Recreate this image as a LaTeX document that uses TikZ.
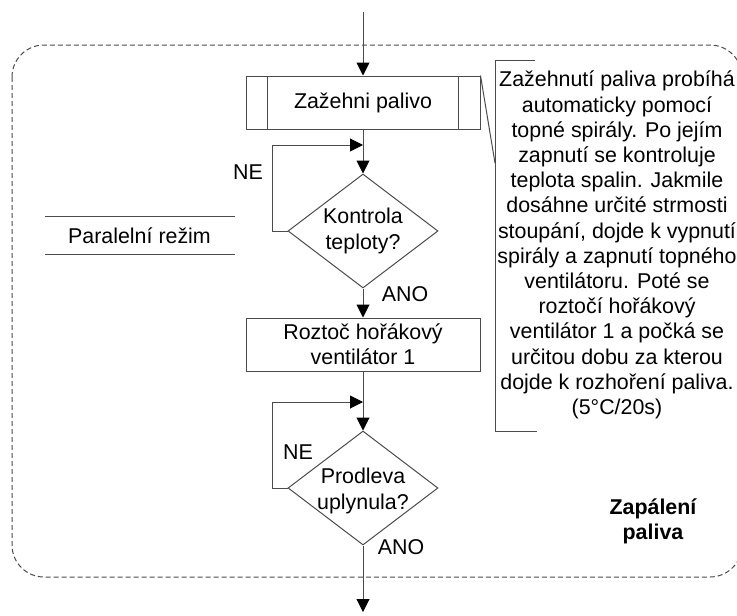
\documentclass[tikz,border=0pt]{standalone}
\usepackage{fontspec}
\setmainfont{Liberation Sans}
\usetikzlibrary{shapes.geometric,arrows.meta,calc}
\definecolor{lncol}{RGB}{75,75,75}
\begin{document}
\begin{tikzpicture}[x=1pt,y=-1pt,
  every node/.style={font=\fontsize{21.4}{25.2}\selectfont, inner sep=0pt},
  ln/.style={draw=lncol, line width=1pt},
  arr/.style={ln, -{Triangle[length=13pt,width=13pt,color=black]}},
  procbox/.style={draw=lncol, line width=1pt, minimum width=234pt, minimum height=53pt, align=center},
  decis/.style={diamond, draw=lncol, line width=1pt, minimum width=150pt, minimum height=114pt},
  boldtxt/.style={font={\fontsize{21.4}{25.2}\selectfont\bfseries}, align=center}]
\useasboundingbox (0,0) rectangle (737,616);
% group frame
\draw[lncol, line width=1pt, dash pattern=on 5pt off 3pt, rounded corners=32pt] (12,45) rectangle (742,577);

% nodes
\node[procbox] (b1) at (363,102.5) {Zažehni palivo};
\draw[ln] ($(b1.north west)+(22,0)$) -- ($(b1.south west)+(22,0)$);
\draw[ln] ($(b1.north east)+(-22,0)$) -- ($(b1.south east)+(-22,0)$);

\node[decis] (d1) at (363,231) {};
\node[align=center] (t1) at (363,231) {Kontrola\\teploty?};

\node[procbox] (b2) at (363,344.5) {Roztoč hořákový\\ventilátor 1};

\node[decis] (d2) at (363,488) {};
\node[align=center] (t2) at (363,491) {Prodleva\\uplynula?};

\coordinate (top) at (363,12);
\coordinate (j1) at (363,145);
\coordinate (j2) at (363,402);
\coordinate (bot) at (363,612);

% connectors
\draw[arr] (top) -- (b1.north);
\draw[arr] (b1.south) -- (d1.north);
\draw[arr] (d1.west) -- ++(-15,0) |- (j1);
\draw[arr] (d1.south) -- (b2.north);
\draw[arr] (b2.south) -- (d2.north);
\draw[arr] (d2.west) -- ++(-15,0) |- (j2);
\draw[arr] (d2.south) -- (bot);

% labels
\node (ne1) at (248,172.5) {NE};
\node (ano1) at (405,294) {ANO};
\node (ne2) at (298,452.5) {NE};
\node (ano2) at (401,547.5) {ANO};

% parallel mode
\coordinate (p1a) at (45,216); \coordinate (p1b) at (235,216);
\coordinate (p2a) at (45,254); \coordinate (p2b) at (235,254);
\draw[ln] (p1a) -- (p1b);
\draw[ln] (p2a) -- (p2b);
\node[anchor=base] (par) at (139.5,243) {Paralelní režim};

% annotation
\coordinate (brt) at (535,60);
\coordinate (brtl) at (495,60);
\coordinate (brbl) at (495,431);
\coordinate (brb) at (537,431);
\coordinate (brj) at (495,163);
\draw[ln] (brt) -- (brtl) -- (brbl) -- (brb);
\draw[ln] (b1.north east) -- (brj);
\node[align=center] (note) at (617,245) {Zažehnutí paliva probíhá\\automaticky pomocí\\topné spirály. Po jejím\\zapnutí se kontroluje\\teplota spalin. Jakmile\\dosáhne určité strmosti\\stoupání, dojde k vypnutí\\spirály a zapnutí topného\\ventilátoru. Poté se\\roztočí hořákový\\ventilátor 1 a počká se\\určitou dobu za kterou\\dojde k rozhoření paliva.\\(5°C/20s)};

\node[boldtxt] (zp) at (653,521.5) {Zapálení\\paliva};
\end{tikzpicture}
\end{document}
